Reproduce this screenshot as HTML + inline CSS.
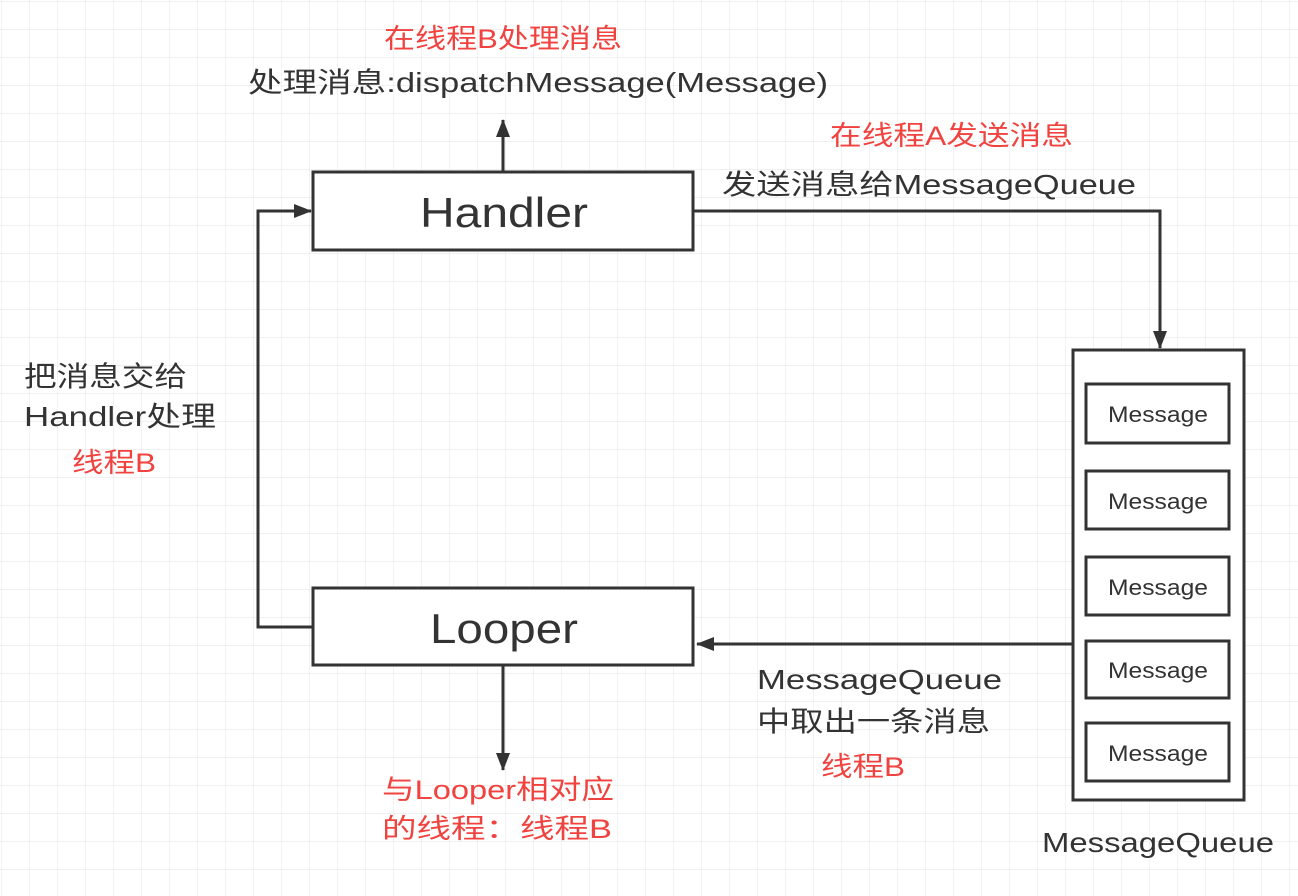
<!DOCTYPE html>
<html><head><meta charset="utf-8"><style>
body{margin:0;width:1298px;height:896px;overflow:hidden;background:#fff}
svg{display:block}
text{font-family:"Liberation Sans","Noto Sans CJK SC",sans-serif}
</style></head><body>
<svg width="1298" height="896" xmlns="http://www.w3.org/2000/svg">
<defs>
<pattern id="g" width="28" height="28" patternUnits="userSpaceOnUse" x="1" y="1">
<path d="M0 0H28M0 0V28" stroke="#e8e8e8" stroke-width="1.2" fill="none"/>
</pattern>
<marker id="a" markerWidth="18" markerHeight="16" refX="17" refY="8" orient="auto" markerUnits="userSpaceOnUse" viewBox="0 0 18 16">
<path d="M0 1L18 8L0 15Z" fill="#333"/>
</marker>
</defs>
<rect width="1298" height="896" fill="url(#g)"/>
<g stroke="#333" stroke-width="3" fill="none">
<path d="M503 172V120" marker-end="url(#a)"/>
<path d="M693 211H1160V348" marker-end="url(#a)"/>
<path d="M1073 644H697" marker-end="url(#a)"/>
<path d="M313 627H258V211H311" marker-end="url(#a)"/>
<path d="M503 665V770" marker-end="url(#a)"/>
</g>
<g stroke="#333" stroke-width="3" fill="#fff">
<rect x="313" y="172" width="380" height="78"/>
<rect x="313" y="588" width="380" height="77"/>
<rect x="1073" y="350" width="171" height="450"/>
<rect x="1086" y="384" width="143" height="59"/>
<rect x="1086" y="471" width="143" height="58"/>
<rect x="1086" y="557" width="143" height="58"/>
<rect x="1086" y="641" width="143" height="57"/>
<rect x="1086" y="723" width="143" height="58"/>
</g>
<g fill="#333" lengthAdjust="spacingAndGlyphs">
<text x="420" y="227" font-size="42" textLength="168" lengthAdjust="spacingAndGlyphs">Handler</text>
<text x="430" y="643" font-size="42" textLength="148" lengthAdjust="spacingAndGlyphs">Looper</text>
<g font-size="22">
<text x="1108" y="422" textLength="100" lengthAdjust="spacingAndGlyphs">Message</text>
<text x="1108" y="509" textLength="100" lengthAdjust="spacingAndGlyphs">Message</text>
<text x="1108" y="595" textLength="100" lengthAdjust="spacingAndGlyphs">Message</text>
<text x="1108" y="678" textLength="100" lengthAdjust="spacingAndGlyphs">Message</text>
<text x="1108" y="761" textLength="100" lengthAdjust="spacingAndGlyphs">Message</text>
</g>
</g>
<g font-size="28" fill="#333">
<text x="248" y="92" textLength="580" lengthAdjust="spacingAndGlyphs">处理消息:dispatchMessage(Message)</text>
<text x="722" y="194" textLength="414" lengthAdjust="spacingAndGlyphs">发送消息给MessageQueue</text>
<text x="24" y="386" textLength="163" lengthAdjust="spacingAndGlyphs">把消息交给</text>
<text x="24" y="426" textLength="192" lengthAdjust="spacingAndGlyphs">Handler处理</text>
<text x="757" y="689" textLength="245" lengthAdjust="spacingAndGlyphs">MessageQueue</text>
<text x="757" y="731" textLength="233" lengthAdjust="spacingAndGlyphs">中取出一条消息</text>
<text x="1042" y="852" textLength="232" lengthAdjust="spacingAndGlyphs">MessageQueue</text>
</g>
<g font-size="27" fill="#f0433f">
<text x="384" y="48" textLength="238" lengthAdjust="spacingAndGlyphs">在线程B处理消息</text>
<text x="830" y="145" textLength="243" lengthAdjust="spacingAndGlyphs">在线程A发送消息</text>
<text x="72" y="472" textLength="84" lengthAdjust="spacingAndGlyphs">线程B</text>
<text x="821" y="776" textLength="84" lengthAdjust="spacingAndGlyphs">线程B</text>
<text x="382" y="799" textLength="232" lengthAdjust="spacingAndGlyphs">与Looper相对应</text>
<text x="382" y="838" textLength="230" lengthAdjust="spacingAndGlyphs">的线程：线程B</text>
</g>
</svg>
</body></html>
